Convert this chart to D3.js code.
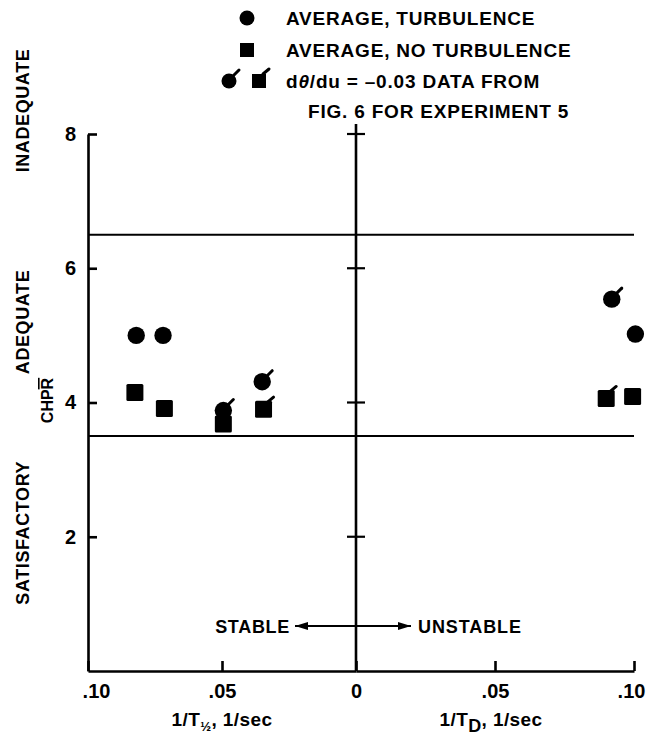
<!DOCTYPE html>
<html>
<head>
<meta charset="utf-8">
<script src="https://cdn.jsdelivr.net/npm/d3@7"></script>
<style>
  body { margin: 0; background: #fff; }
  svg text { font-family: "Liberation Sans", Arial, Helvetica, sans-serif; font-weight: bold; fill: #000; }
</style>
</head>
<body>
<div id="chart"></div>
<script>
// stable side, x = 1/T1/2
const stableTurbX = [0.082, 0.072, 0.0495, 0.035];
const stableTurbY = [5.0, 5.0, 3.88, 4.31];
const stableTurbFlag = [false, false, true, true];
const stableNoTurbX = [0.0825, 0.0715, 0.0495, 0.0345];
const stableNoTurbY = [4.15, 3.91, 3.68, 3.9];
const stableNoTurbFlag = [false, false, false, true];

// unstable side, x = 1/TD
const unstableTurbX = [0.092, 0.1005];
const unstableTurbY = [5.54, 5.02];
const unstableTurbFlag = [true, false];
const unstableNoTurbX = [0.090, 0.0995];
const unstableNoTurbY = [4.06, 4.09];
const unstableNoTurbFlag = [true, false];

const yTicks = [2, 4, 6, 8];
const stableTicks = [0.1, 0.05, 0];
const unstableTicks = [0.05, 0.1];
const boundaries = [3.5, 6.5];
const ratingLabels = [
  { text: "INADEQUATE", at: 8.35 },
  { text: "ADEQUATE", at: 5.2 },
  { text: "SATISFACTORY", at: 2.06 }
];

const width = 646, height = 737;

const svg = d3.select("#chart")
  .append("svg")
  .attr("width", width)
  .attr("height", height);

const y = d3.scaleLinear().domain([0, 8]).range([671, 134]);
const xStable = d3.scaleLinear().domain([0.1, 0]).range([88, 356]);
const xUnstable = d3.scaleLinear().domain([0, 0.1]).range([356, 634]);

const fmt = d => d === 0 ? "0" : d3.format(".2f")(d).replace("0.", ".");

// y axis on the left
const yAxis = svg.append("g")
  .attr("transform", `translate(${xStable(0.1)},0)`)
  .call(d3.axisLeft(y).tickValues(yTicks).tickSizeInner(-9).tickSizeOuter(0).tickPadding(12));

// bottom axes
const bStable = svg.append("g")
  .attr("transform", `translate(0,${y(0)})`)
  .call(d3.axisBottom(xStable).tickValues(stableTicks).tickFormat(fmt).tickSizeInner(-10).tickSizeOuter(0).tickPadding(13));
const bUnstable = svg.append("g")
  .attr("transform", `translate(0,${y(0)})`)
  .call(d3.axisBottom(xUnstable).tickValues(unstableTicks).tickFormat(fmt).tickSizeInner(-10).tickSizeOuter(0).tickPadding(13));
svg.selectAll(".tick text").style("font-size", "20px");
bStable.selectAll(".tick").filter(d => d === 0.1).select("text").attr("dx", 8);
bUnstable.selectAll(".tick").filter(d => d === 0.1).select("text").attr("dx", -3);
svg.selectAll(".domain, .tick line").attr("stroke", "#000").attr("stroke-width", 2.6);

// centre line with cross ticks
svg.append("line")
  .attr("x1", xStable(0)).attr("x2", xStable(0))
  .attr("y1", 124).attr("y2", y(0))
  .attr("stroke", "#000").attr("stroke-width", 2.6);
svg.selectAll(".ctick").data(yTicks).enter().append("line")
  .attr("x1", xStable(0) - 9).attr("x2", xStable(0) + 9)
  .attr("y1", d => y(d)).attr("y2", d => y(d))
  .attr("stroke", "#000").attr("stroke-width", 2.2);

// rating boundaries
svg.selectAll(".bound").data(boundaries).enter().append("line")
  .attr("x1", xStable(0.1)).attr("x2", xUnstable(0.1))
  .attr("y1", d => y(d)).attr("y2", d => y(d))
  .attr("stroke", "#000").attr("stroke-width", 2);

// rating labels
svg.selectAll(".rating").data(ratingLabels).enter().append("text")
  .attr("transform", d => `translate(29,${y(d.at)}) rotate(-90)`)
  .attr("text-anchor", "middle")
  .style("font-size", "18px")
  .style("letter-spacing", "0.6px")
  .text(d => d.text);
const chpr = svg.append("text")
  .attr("transform", `translate(53,${y(4.03)}) rotate(-90)`)
  .attr("text-anchor", "middle")
  .style("font-size", "16px");
chpr.append("tspan").text("CHP");
chpr.append("tspan").style("text-decoration", "overline").text("R");

// markers
function flagCircle(g, cx, cy) {
  g.append("line")
    .attr("x1", cx + 4).attr("y1", cy - 5)
    .attr("x2", cx + 10).attr("y2", cy - 11)
    .attr("stroke", "#000").attr("stroke-width", 3).attr("stroke-linecap", "round");
}
function flagSquare(g, cx, cy) {
  g.append("line")
    .attr("x1", cx + 4).attr("y1", cy - 7)
    .attr("x2", cx + 10).attr("y2", cy - 12)
    .attr("stroke", "#000").attr("stroke-width", 3).attr("stroke-linecap", "round");
}
function circles(xs, ys, flags, xScale) {
  const g = svg.append("g");
  xs.forEach((v, i) => {
    const cx = xScale(v), cy = y(ys[i]);
    g.append("circle").attr("cx", cx).attr("cy", cy).attr("r", 8.7).attr("fill", "#000");
    if (flags[i]) flagCircle(g, cx, cy);
  });
}
function squares(xs, ys, flags, xScale) {
  const g = svg.append("g");
  xs.forEach((v, i) => {
    const cx = xScale(v), cy = y(ys[i]);
    g.append("rect").attr("x", cx - 8.5).attr("y", cy - 8.5).attr("width", 17).attr("height", 17)
      .attr("rx", 1.5).attr("fill", "#000");
    if (flags[i]) flagSquare(g, cx, cy);
  });
}
squares(stableNoTurbX, stableNoTurbY, stableNoTurbFlag, xStable);
circles(stableTurbX, stableTurbY, stableTurbFlag, xStable);
squares(unstableNoTurbX, unstableNoTurbY, unstableNoTurbFlag, xUnstable);
circles(unstableTurbX, unstableTurbY, unstableTurbFlag, xUnstable);

// stable / unstable arrow
const arrowY = 626;
svg.append("defs").append("marker")
  .attr("id", "head").attr("viewBox", "0 0 13 8")
  .attr("refX", 13).attr("refY", 4)
  .attr("markerWidth", 13).attr("markerHeight", 8)
  .attr("markerUnits", "userSpaceOnUse")
  .attr("orient", "auto-start-reverse")
  .append("path").attr("d", "M0,0L13,4L0,8Z").attr("fill", "#000");
svg.append("line")
  .attr("x1", 295).attr("x2", 411).attr("y1", arrowY).attr("y2", arrowY)
  .attr("stroke", "#000").attr("stroke-width", 2)
  .attr("marker-start", "url(#head)").attr("marker-end", "url(#head)");
svg.append("text").attr("x", 290).attr("y", arrowY + 7).attr("text-anchor", "end")
  .style("font-size", "18px").style("letter-spacing", "0.7px").text("STABLE");
svg.append("text").attr("x", 418).attr("y", arrowY + 7)
  .style("font-size", "18px").style("letter-spacing", "0.9px").text("UNSTABLE");

// axis titles
const t1 = svg.append("text").attr("x", xStable(0.05)).attr("y", 726)
  .attr("text-anchor", "middle").style("font-size", "19px").style("letter-spacing", "0.4px");
t1.append("tspan").text("1/T");
t1.append("tspan").attr("dy", 5).style("font-size", "13px").text("½");
t1.append("tspan").attr("dy", -5).text(", 1/sec");
const t2 = svg.append("text").attr("x", xUnstable(0.05) - 4).attr("y", 726)
  .attr("text-anchor", "middle").style("font-size", "19px").style("letter-spacing", "0.4px");
t2.append("tspan").text("1/T");
t2.append("tspan").attr("dy", 6).style("font-size", "18px").text("D");
t2.append("tspan").attr("dy", -6).text(", 1/sec");

// legend
const lg = svg.append("g");
const legStyle = s => s.style("font-size", "19px").style("letter-spacing", "0.8px");
lg.append("circle").attr("cx", 247).attr("cy", 18).attr("r", 7.5).attr("fill", "#000");
lg.append("text").attr("x", 286).attr("y", 25).call(legStyle).text("AVERAGE, TURBULENCE");
lg.append("rect").attr("x", 240).attr("y", 43).attr("width", 14).attr("height", 14).attr("fill", "#000");
lg.append("text").attr("x", 286).attr("y", 57).call(legStyle).text("AVERAGE, NO TURBULENCE");
lg.append("circle").attr("cx", 229).attr("cy", 81).attr("r", 7.5).attr("fill", "#000");
flagCircle(lg, 229, 81);
lg.append("rect").attr("x", 252).attr("y", 74).attr("width", 14).attr("height", 14).attr("fill", "#000");
flagSquare(lg, 259, 81);
const l3 = lg.append("text").attr("x", 286).attr("y", 88).call(legStyle);
l3.append("tspan").text("d");
l3.append("tspan").style("font-style", "italic").text("θ");
l3.append("tspan").text("/du = –0.03 DATA FROM");
lg.append("text").attr("x", 308).attr("y", 118).call(legStyle).text("FIG. 6 FOR EXPERIMENT 5");
</script>
</body>
</html>
